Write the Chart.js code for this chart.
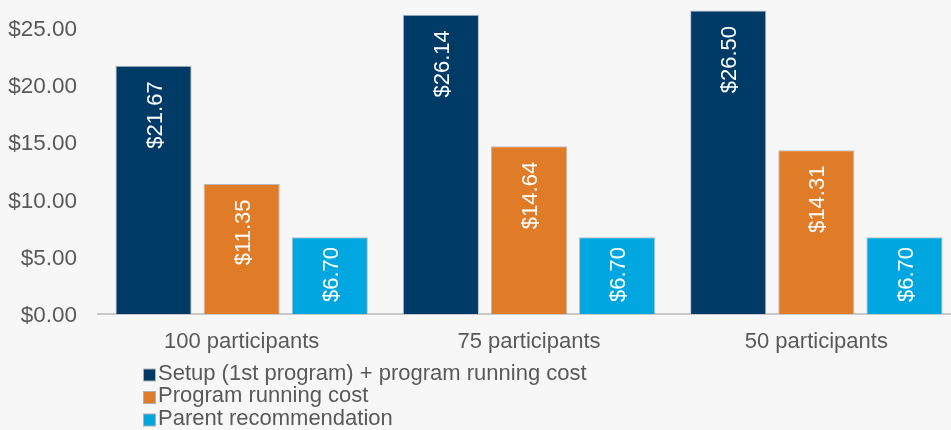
<!DOCTYPE html>
<html>
<head>
<meta charset="utf-8">
<script src="https://cdn.jsdelivr.net/npm/chart.js@4.4.1/dist/chart.umd.min.js"></script>
<style>
  html, body { margin: 0; padding: 0; overflow: hidden; background: #f7f7f7; }
  #wrap { position: absolute; left: 0; top: 0; width: 960px; height: 450px; }
</style>
</head>
<body>
<div id="wrap"><canvas id="c" width="960" height="450"></canvas></div>
<script>
const categories = ['100 participants', '75 participants', '50 participants'];
const seriesNames = ['Setup (1st program) + program running cost', 'Program running cost', 'Parent recommendation'];
const setupCost = [21.67, 26.14, 26.50];
const runningCost = [11.35, 14.64, 14.31];
const parentRec = [6.70, 6.70, 6.70];
const yTicks = [0, 5, 10, 15, 20, 25];
const colors = ['#003b68', '#e07c28', '#00a6df'];

const FONT = '"Liberation Sans", Arial, Helvetica, sans-serif';
const TEXT = '#595959';

const barLabels = {
  id: 'barLabels',
  afterDatasetsDraw(chart) {
    const ctx = chart.ctx;
    ctx.save();
    ctx.font = '22px ' + FONT;
    ctx.fillStyle = '#ffffff';
    ctx.textAlign = 'right';
    ctx.textBaseline = 'middle';
    chart.data.datasets.forEach((ds, di) => {
      const meta = chart.getDatasetMeta(di);
      meta.data.forEach((bar, i) => {
        const txt = '$' + ds.data[i].toFixed(2);
        const len = ctx.measureText(txt).width;
        const h = bar.base - bar.y;
        const off = Math.min(15.5, h - len - 12);
        ctx.save();
        ctx.translate(bar.x + 2, bar.y + off);
        ctx.rotate(-Math.PI / 2);
        ctx.fillText(txt, 0, 0);
        ctx.restore();
      });
    });
    ctx.restore();
  }
};

const stackLegend = {
  id: 'stackLegend',
  afterDraw(chart) {
    const ctx = chart.ctx;
    ctx.save();
    ctx.font = '22px ' + FONT;
    ctx.textAlign = 'left';
    ctx.textBaseline = 'middle';
    chart.data.datasets.forEach((ds, i) => {
      const cy = 375 + i * 22.5;
      ctx.fillStyle = ds.backgroundColor;
      ctx.fillRect(143.5, cy - 6, 12, 12);
      ctx.strokeStyle = '#b0b0b0';
      ctx.lineWidth = 1;
      ctx.strokeRect(143.5, cy - 6, 12, 12);
      ctx.fillStyle = TEXT;
      ctx.fillText(ds.label, 158, cy - 1.5);
    });
    ctx.restore();
  }
};

new Chart(document.getElementById('c'), {
  type: 'bar',
  data: {
    labels: categories,
    datasets: [
      { label: seriesNames[0], data: setupCost, backgroundColor: colors[0] },
      { label: seriesNames[1], data: runningCost, backgroundColor: colors[1] },
      { label: seriesNames[2], data: parentRec, backgroundColor: colors[2] }
    ].map(d => Object.assign(d, {
      borderColor: '#b8b8b8', borderWidth: 1, borderSkipped: 'bottom',
      categoryPercentage: 0.92, barPercentage: 0.864
    }))
  },
  options: {
    responsive: false,
    devicePixelRatio: 1,
    animation: false,
    layout: { padding: { left: 0, right: 0, top: 0, bottom: 96 } },
    plugins: { legend: { display: false }, tooltip: { enabled: false } },
    scales: {
      x: {
        grid: { display: false, drawTicks: false },
        border: { display: true, color: '#c8c8c8', width: 2 },
        ticks: { color: TEXT, font: { family: FONT, size: 22 }, padding: 15, maxRotation: 0 },
        afterFit(s) { s.height = 40; s.paddingLeft = 0; s.paddingRight = 0; }
      },
      y: {
        min: 0, max: 27.42,
        grid: { display: false, drawTicks: false },
        border: { display: false },
        afterBuildTicks(s) { s.ticks = yTicks.map(v => ({ value: v })); },
        ticks: {
          color: TEXT, font: { family: FONT, size: 22.5 }, padding: 21, labelOffset: 2,
          callback: v => '$' + Number(v).toFixed(2)
        },
        afterFit(s) { s.width = 98; s.paddingTop = 0; s.paddingBottom = 0; }
      }
    }
  },
  plugins: [barLabels, stackLegend]
});
</script>
</body>
</html>
